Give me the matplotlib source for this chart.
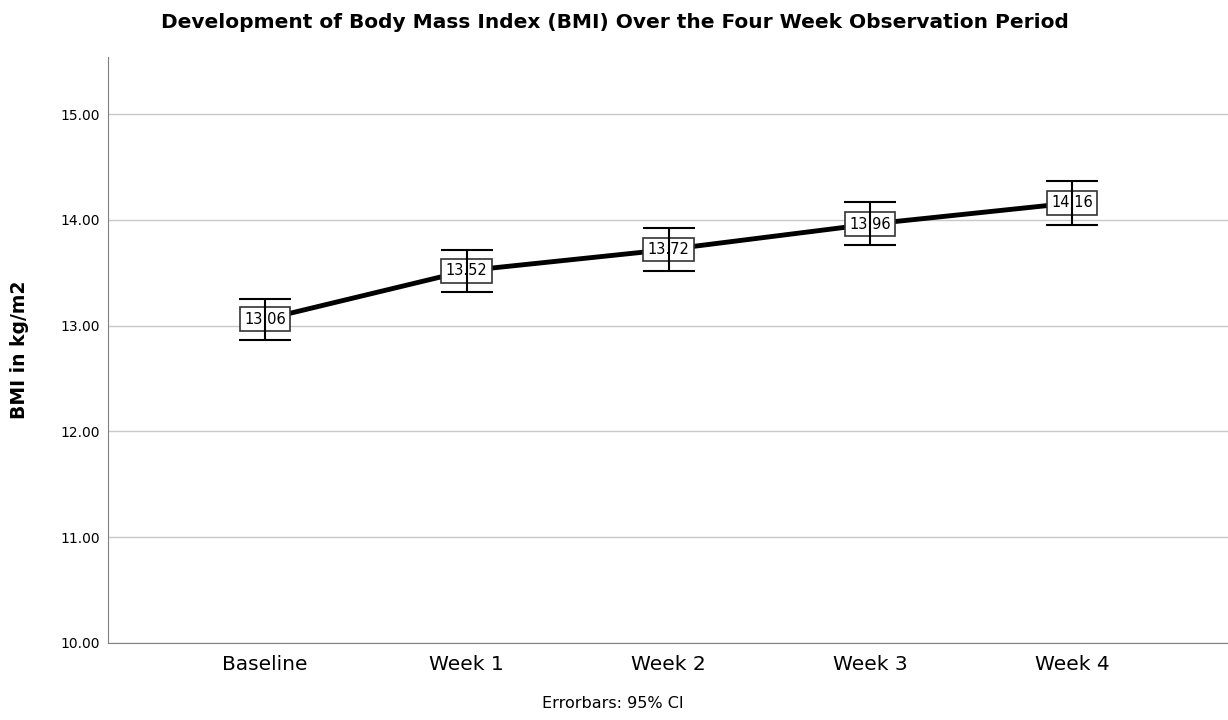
import matplotlib
matplotlib.use("Agg")
import matplotlib.pyplot as plt
import numpy as np

# values
timepoints = ['Baseline', 'Week 1', 'Week 2', 'Week 3', 'Week 4']
bmi_mean = [13.06, 13.52, 13.72, 13.96, 14.16]
ci_low = [12.86, 13.32, 13.52, 13.76, 13.95]
ci_high = [13.25, 13.72, 13.92, 14.17, 14.37]
yticks = [10, 11, 12, 13, 14, 15]

plt.rcParams['font.family'] = ['DejaVu Sans']

fig = plt.figure(figsize=(12.28, 7.2), dpi=100)
ax = fig.add_axes([108/1228, 1 - 643/720, 1120/1228, (643-57)/720])

x = np.arange(len(timepoints))
mean = np.array(bmi_mean)
yerr = [mean - np.array(ci_low), np.array(ci_high) - mean]

ax.plot(x, mean, color='black', lw=3.5, zorder=3)
# value boxes sit under the error bars, as in the original
for xi, m in zip(x, bmi_mean):
    ax.text(xi, m, f'{m:.2f}', ha='center', va='center', fontsize=10.5, zorder=4,
            bbox=dict(boxstyle='square,pad=0.3', fc='white', ec='#333333', lw=1.2))
ax.errorbar(x, mean, yerr=yerr, fmt='none', ecolor='black', elinewidth=1.5,
            capsize=18.5, capthick=1.5, zorder=6)

ax.set_xlim(-0.778, 4.773)
ax.set_ylim(10, 15.54)
ax.set_yticks(yticks)
ax.set_yticklabels([f'{v:.2f}' for v in yticks], fontsize=10)
ax.set_xticks(x)
ax.set_xticklabels(timepoints, fontsize=14.5)
ax.tick_params(axis='x', length=0, pad=9)
ax.tick_params(axis='y', length=0, pad=6)

ax.grid(axis='y', color='#c8c8c8', lw=1)
ax.set_axisbelow(True)
for side in ['top', 'right']:
    ax.spines[side].set_visible(False)
for side in ['left', 'bottom']:
    ax.spines[side].set_color('#808080')

ax.set_ylabel('BMI in kg/m2', fontsize=13.5, fontweight='bold', labelpad=22)
fig.text(615/1228, 1 - 22/720,
         'Development of Body Mass Index (BMI) Over the Four Week Observation Period',
         ha='center', va='center', fontsize=14.5, fontweight='bold')
fig.text(613/1228, 1 - 703/720, 'Errorbars: 95% CI', ha='center', va='center', fontsize=11.5)

fig.savefig('out.png', dpi=100)
